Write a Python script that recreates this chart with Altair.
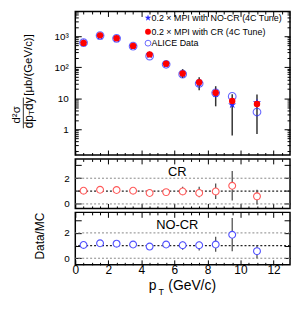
import altair as alt
import pandas as pd

FONT = "Liberation Sans"

# ---------------- data ----------------
pt = [0.5, 1.5, 2.5, 3.5, 4.5, 5.5, 6.5, 7.5, 8.5, 9.5, 11.0]
alice = [620, 1050, 850, 480, 230, 125, 60, 30, 15, 11.5, 3.6]
mc_cr = [610, 1070, 860, 490, 260, 130, 63, 33, 15, 8.2, 6.5]
mc_nocr = [600, 1000, 820, 470, 250, 125, 60, 30, 14, 6.2, 7.2]

err_pt = [6.5, 7.5, 8.5, 9.5, 11.0]
top_err_low = [45, 18, 5.5, 0.63, 0.7]
top_err_high = [87, 48, 24.5, 13.5, 13.3]

ratio_cr = [1.03, 1.10, 1.08, 1.03, 0.85, 0.92, 0.97, 0.85, 0.97, 1.41, 0.59]
cr_err_low = [0.69, 0.51, 0.38, 0.26, -0.05]
cr_err_high = [1.33, 1.33, 1.59, 2.56, 1.10]

ratio_nocr = [1.05, 1.18, 1.15, 1.08, 0.92, 1.08, 1.03, 1.03, 1.08, 1.85, 0.56]
nocr_err_low = [0.67, 0.62, 0.51, 0.56, 0.0]
nocr_err_high = [1.33, 1.33, 1.69, 3.18, 1.03]

ref_lines_grey = [0, 2]
ref_lines_black = [1]

# ticks
x_major = [0, 2, 4, 6, 8, 10, 12]
x_minor = [0.5, 1, 1.5, 2.5, 3, 3.5, 4.5, 5, 5.5, 6.5, 7, 7.5, 8.5, 9, 9.5,
           10.5, 11, 11.5, 12.5]
top_y_major = [1, 10, 100, 1000]
top_y_minor = [0.2, 0.3, 0.4, 0.5, 0.6, 0.7, 0.8, 0.9,
               2, 3, 4, 5, 6, 7, 8, 9,
               20, 30, 40, 50, 60, 70, 80, 90,
               200, 300, 400, 500, 600, 700, 800, 900,
               2000, 3000, 4000, 5000, 6000]
ratio_y_major = [0, 1, 2, 3]

legend_labels = ["0.2 \u00d7 MPI with NO-CR (4C Tune)",
                 "0.2 \u00d7 MPI with CR (4C Tune)",
                 "ALICE Data"]
panel_labels = ["CR", "NO-CR"]
ytitle_num = ["d\u00b2\u03c3"]
ytitle_den = ["dp", "T", "dy"]
ytitle_unit = ["[\u03bcb/(GeV/c)]"]
ratio_title = ["Data/MC"]
xtitle = ["p", "T", "(GeV/c)"]

X_DOMAIN = [0, 13]
TOP_DOMAIN = [0.148, 6300]
CR_DOMAIN = [-0.35, 3.5]
NOCR_DOMAIN = [-0.52, 3.62]
W = 217

BLUE = "#2a2aff"
RED = "#ff0000"
RED_LIGHT = "#ff5a5a"
BLUE_LIGHT = "#5050ff"
STAR = ("M0,-1L0.2245,-0.309L0.951,-0.309L0.363,0.118L0.588,0.809L0,0.382"
        "L-0.588,0.809L-0.363,0.118L-0.951,-0.309L-0.2245,-0.309Z")


def xs():
    return alt.Scale(domain=X_DOMAIN, nice=False, zero=False)


def ys(dom, typ="linear"):
    return alt.Scale(type=typ, domain=dom, nice=False, zero=False)


def ax(orient, values, size, labels=False, **kw):
    return alt.Axis(orient=orient, values=values, tickSize=size, offset=-size,
                    domain=False, grid=False, labels=labels, ticks=True,
                    tickColor="black", tickWidth=1, title=None, **kw)


def axis_layers(ydom, ytype, ymid, ymaj, ymin, ymaj_size, ylabel_kw, xlabels):
    # an invisible anchor point in the middle of the panel carries each axis
    d = pd.DataFrame({"x": [6], "y": [ymid]})
    layers = []

    def L(xaxis, yaxis):
        layers.append(alt.Chart(d).mark_point(opacity=0, size=0, strokeWidth=0).encode(
            x=alt.X("x:Q", scale=xs(), axis=xaxis),
            y=alt.Y("y:Q", scale=ys(ydom, ytype), axis=yaxis)))

    L(None, ax("left", ymaj, ymaj_size, labels=True, **ylabel_kw))
    if ymin:
        L(None, ax("left", ymin, 3))
    L(None, ax("right", ymaj, ymaj_size))
    if ymin:
        L(None, ax("right", ymin, 3))
    if xlabels:
        L(ax("bottom", x_major, 5, labels=True, labelPadding=0,
             labelFontSize=12, labelFlush=False), None)
    else:
        L(ax("bottom", x_major, 5), None)
    L(ax("bottom", x_minor, 2.5), None)
    L(ax("top", x_major, 5), None)
    L(ax("top", x_minor, 2.5), None)
    return layers


def text_layer(label, x, y, size, angle=0, align="center", color="black"):
    d = pd.DataFrame({"t": [label]})
    props = dict(font=FONT, fontSize=size, align=align, baseline="middle", color=color)
    if angle:
        props["angle"] = angle
    return alt.Chart(d).mark_text(**props).encode(
        text="t:N", x=alt.value(x), y=alt.value(y))


# ---------------- top panel ----------------
top_df = pd.DataFrame({"pt": pt, "alice": alice, "cr": mc_cr, "nocr": mc_nocr})
top_err = pd.DataFrame({"pt": err_pt, "lo": top_err_low, "hi": top_err_high})

top_ylab = dict(labelPadding=7, labelFontSize=10,
                labelExpr="datum.value >= 1000 ? '10\u00b3' : datum.value >= 100 ? '10\u00b2' : datum.value >= 10 ? '10' : '1'")

errbars = alt.Chart(top_err).mark_rule(color="#333333", strokeWidth=1.5).encode(
    x=alt.X("pt:Q", scale=xs(), axis=None),
    y=alt.Y("lo:Q", scale=ys(TOP_DOMAIN, "log"), axis=None),
    y2="hi:Q")
alice_pts = alt.Chart(top_df).mark_point(shape="circle", filled=False, color=BLUE,
                                         size=60, strokeWidth=1.1).encode(
    x=alt.X("pt:Q", scale=xs(), axis=None),
    y=alt.Y("alice:Q", scale=ys(TOP_DOMAIN, "log"), axis=None))
nocr_pts = alt.Chart(top_df).mark_point(shape=STAR, filled=True, color=BLUE,
                                        size=75, opacity=1).encode(
    x=alt.X("pt:Q", scale=xs(), axis=None),
    y=alt.Y("nocr:Q", scale=ys(TOP_DOMAIN, "log"), axis=None))
cr_pts = alt.Chart(top_df).mark_point(shape="circle", filled=True, color=RED,
                                      size=42, opacity=1).encode(
    x=alt.X("pt:Q", scale=xs(), axis=None),
    y=alt.Y("cr:Q", scale=ys(TOP_DOMAIN, "log"), axis=None))

leg_y = [6.5, 20.5, 32]
leg_sym_x = 73.5
leg_txt_x = 77
one = pd.DataFrame({"a": [0]})
legend_layers = [
    alt.Chart(one).mark_point(shape=STAR, filled=True, color=BLUE, size=50, opacity=1).encode(
        x=alt.value(leg_sym_x), y=alt.value(leg_y[0])),
    alt.Chart(one).mark_point(shape="circle", filled=True, color=RED, size=35, opacity=1).encode(
        x=alt.value(leg_sym_x), y=alt.value(leg_y[1])),
    alt.Chart(one).mark_point(shape="circle", filled=False, color=BLUE, size=35, strokeWidth=1).encode(
        x=alt.value(leg_sym_x), y=alt.value(leg_y[2])),
]
for i, lab in enumerate(legend_labels):
    legend_layers.append(text_layer(lab, leg_txt_x, leg_y[i], 9, align="left"))

ytitle_layers = [
    text_layer(ytitle_num[0], -58.5, 104.5, 11.5, angle=270),
    alt.Chart(one).mark_rule(color="black", strokeWidth=0.8).encode(
        x=alt.value(-52.5), y=alt.value(87), y2=alt.value(118)),
    text_layer(ytitle_den[0], -46.5, 118, 12, angle=270, align="left"),
    text_layer(ytitle_den[1], -43.5, 104.5, 8, angle=270, align="left"),
    text_layer(ytitle_den[2], -46.5, 99.5, 12, angle=270, align="left"),
    text_layer(ytitle_unit[0], -46.5, 54, 11.5, angle=270),
]

top = alt.layer(
    *axis_layers(TOP_DOMAIN, "log", 10, top_y_major, top_y_minor, 6, top_ylab, False),
    errbars, alice_pts, nocr_pts, cr_pts, *legend_layers, *ytitle_layers
).resolve_axis(x="independent", y="independent").properties(width=W, height=145)


# ---------------- ratio panels ----------------
def ratio_panel(vals, lo, hi, dom, color, label, height, extra):
    df = pd.DataFrame({"pt": pt, "r": vals})
    edf = pd.DataFrame({"pt": err_pt, "lo": lo, "hi": hi})
    ylab = dict(labelPadding=6, labelFontSize=10,
                labelExpr="datum.value == 0 ? '0' : datum.value == 2 ? '2' : ''")
    refs_grey = alt.Chart(pd.DataFrame({"y": ref_lines_grey})).mark_rule(
        color="#888888", strokeWidth=1, strokeDash=[2, 2]).encode(
        y=alt.Y("y:Q", scale=ys(dom), axis=None))
    refs_black = alt.Chart(pd.DataFrame({"y": ref_lines_black})).mark_rule(
        color="#222222", strokeWidth=1.2, strokeDash=[2, 2]).encode(
        y=alt.Y("y:Q", scale=ys(dom), axis=None))
    bars = alt.Chart(edf).mark_rule(color="#444444", strokeWidth=1.2).encode(
        x=alt.X("pt:Q", scale=xs(), axis=None),
        y=alt.Y("lo:Q", scale=ys(dom), axis=None), y2="hi:Q")
    pts = alt.Chart(df).mark_point(shape="circle", filled=True, fill="white", stroke=color,
                                   size=48, strokeWidth=1.1, opacity=1).encode(
        x=alt.X("pt:Q", scale=xs(), axis=None),
        y=alt.Y("r:Q", scale=ys(dom), axis=None))
    lab = text_layer(label, 103, 13, 13)
    return alt.layer(
        *axis_layers(dom, "linear", 1, ratio_y_major, None, 6, ylab, extra is not None),
        refs_grey, refs_black, bars, pts, lab, *(extra or [])
    ).resolve_axis(x="independent", y="independent").properties(width=W, height=height)


cr = ratio_panel(ratio_cr, cr_err_low, cr_err_high, CR_DOMAIN, RED_LIGHT, panel_labels[0], 50, None)

bottom_texts = [
    text_layer(ratio_title[0], -35.5, 24, 12, angle=270),
    text_layer(xtitle[0], 82, 74, 14, align="right"),
    text_layer(xtitle[1], 84, 80, 9, align="left"),
    text_layer(xtitle[2], 94, 74, 14, align="left"),
]
nocr = ratio_panel(ratio_nocr, nocr_err_low, nocr_err_high, NOCR_DOMAIN, BLUE_LIGHT,
                   panel_labels[1], 53, bottom_texts)

chart = alt.vconcat(top, cr, nocr, spacing=0).properties(
    padding={"left": 2, "top": 0, "right": 0, "bottom": 0}
).configure_view(stroke="black", strokeWidth=1.5).configure_axis(
    labelFont=FONT, labelColor="black"
).configure_text(font=FONT)

chart.save("out.html", embed_options={"renderer": "svg", "actions": False})
